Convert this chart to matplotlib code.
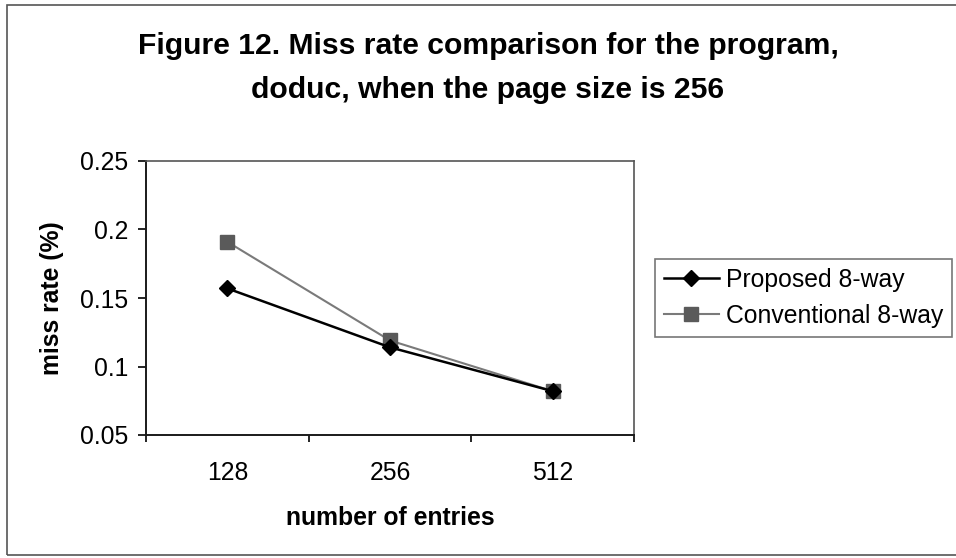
import matplotlib
matplotlib.use("Agg")
import matplotlib.pyplot as plt
from matplotlib.patches import Rectangle

plt.rcParams["font.family"] = ["Liberation Sans", "DejaVu Sans"]

# data
entries = ["128", "256", "512"]
proposed = [0.157, 0.114, 0.082]
conventional = [0.191, 0.119, 0.082]
y_ticks = [0.05, 0.1, 0.15, 0.2, 0.25]
y_tick_labels = ["0.05", "0.1", "0.15", "0.2", "0.25"]

FS = 17.8          # tick / axis / legend text
TITLE_FS = 21.7

fig = plt.figure(figsize=(9.56, 5.58), dpi=100, facecolor="white")

# outer chart-area border (Excel style), open on the right
fig.patches.append(Rectangle((7 / 956, 3 / 558), 1.2, 550 / 558,
                             transform=fig.transFigure, fill=False,
                             edgecolor="#555555", linewidth=1.2))

ax = fig.add_axes([146 / 956, 1 - 435 / 558, 488 / 956, 274 / 558])
x = list(range(len(entries)))

ax.plot(x, proposed, color="black", linewidth=1.8, marker="D",
        markersize=8, markerfacecolor="black", markeredgecolor="black",
        label="Proposed 8-way", zorder=3)
ax.plot(x, conventional, color="#7a7a7a", linewidth=1.5, marker="s",
        markersize=10, markerfacecolor="#5a5a5a", markeredgecolor="#5a5a5a",
        label="Conventional 8-way", zorder=2)

ax.set_xlim(-0.5, len(entries) - 0.5)
ax.set_ylim(0.05, 0.25)
ax.set_yticks(y_ticks)
ax.set_yticklabels(y_tick_labels)
ax.set_xticks(x)
ax.set_xticklabels(entries)
ax.set_xticks([i - 0.5 for i in range(len(entries) + 1)], minor=True)
ax.tick_params(axis="x", which="major", length=0, pad=19, labelsize=FS)
ax.tick_params(axis="x", which="minor", length=5, width=1.2, direction="out")
ax.tick_params(axis="y", length=6, width=1.2, direction="out", pad=7,
               labelsize=FS)

for side in ["left", "bottom"]:
    ax.spines[side].set_color("#1a1a1a")
    ax.spines[side].set_linewidth(1.4)
for side in ["top", "right"]:
    ax.spines[side].set_color("#555555")
    ax.spines[side].set_linewidth(1.2)

ax.set_xlabel("number of entries", fontsize=FS, fontweight="bold",
              labelpad=15)
ax.set_ylabel("miss rate (%)", fontsize=FS, fontweight="bold", labelpad=11)

fig.text(0.5105, 1 - 46 / 558,
         "Figure 12. Miss rate comparison for the program,",
         ha="center", va="center", fontsize=TITLE_FS, fontweight="bold")
fig.text(0.5105, 1 - 90 / 558,
         "doduc, when the page size is 256",
         ha="center", va="center", fontsize=TITLE_FS, fontweight="bold")

leg = fig.legend(loc="upper left", bbox_to_anchor=(655 / 956, 1 - 259 / 558),
                 frameon=True, fancybox=False, fontsize=FS,
                 handlelength=2.25, handletextpad=0.28, borderpad=0.35,
                 labelspacing=0.5, borderaxespad=0)
leg.get_frame().set_edgecolor("#555555")
leg.get_frame().set_linewidth(1.2)

fig.savefig("out.png", dpi=100, facecolor="white")
